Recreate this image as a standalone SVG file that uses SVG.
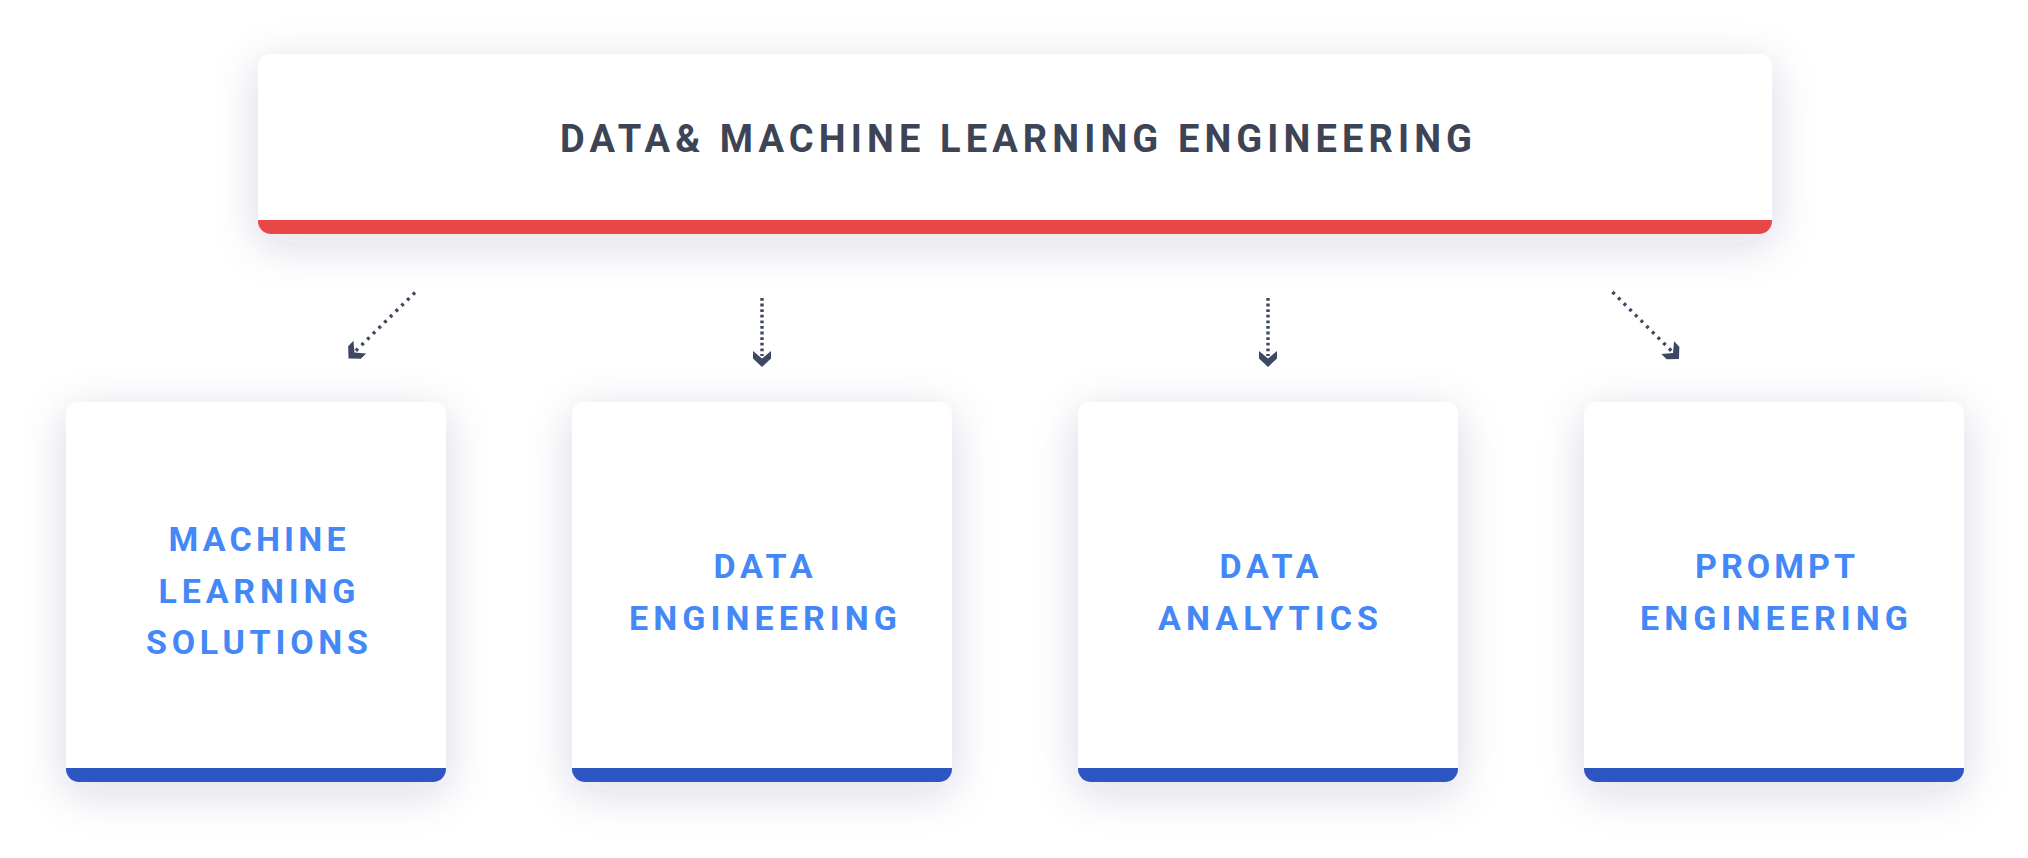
<svg xmlns="http://www.w3.org/2000/svg" width="2028" height="858" viewBox="0 0 2028 858">
  <defs>
    <filter id="shadow" x="-25%" y="-50%" width="150%" height="200%">
      <feDropShadow dx="0" dy="10" stdDeviation="22" flood-color="#2a3360" flood-opacity="0.16"/>
    </filter>
    <polygon id="chev" points="-9,-16 0,-8.5 9,-16 9,-8.5 0,0 -9,-8.5"/>
  </defs>
  <style>
    .card { fill: #ffffff; }
    .topbar { fill: #e84646; }
    .bar { fill: #2f57c3; }
    .title { font-family: Roboto, "Liberation Sans", sans-serif; font-weight: 700; font-size: 38px; fill: #3d4456; }
    .label { font-family: Roboto, "Liberation Sans", sans-serif; font-weight: 700; font-size: 34px; fill: #4487f6; text-anchor: middle; }
    .vline { stroke: #3d4862; stroke-width: 3.4; stroke-dasharray: 2.8 2.8; fill: none; }
    .dline { stroke: #3d4862; stroke-width: 3.4; stroke-dasharray: 3 5; fill: none; }
    .head { fill: #3d4862; }
  </style>
  <rect width="2028" height="858" fill="#ffffff"/>

  <g id="node-top">
    <g filter="url(#shadow)">
      <rect class="card" x="258" y="54" width="1514" height="180" rx="13"/>
      <path class="topbar" d="M258,220 H1772 V221 A13,13 0 0 1 1759,234 H271 A13,13 0 0 1 258,221 Z"/>
    </g>
    <text class="title" x="560" y="152" textLength="912" lengthAdjust="spacing">DATA&amp; MACHINE LEARNING ENGINEERING</text>
  </g>

  <g id="connectors">
    <line class="dline" x1="415" y1="292.5" x2="354" y2="352.5"/>
    <use href="#chev" class="head" transform="translate(348.5,358.5) rotate(45)"/>
    <line class="vline" x1="762" y1="298" x2="762" y2="356"/>
    <use href="#chev" class="head" transform="translate(762,367)"/>
    <line class="vline" x1="1268" y1="298" x2="1268" y2="356"/>
    <use href="#chev" class="head" transform="translate(1268,367)"/>
    <line class="dline" x1="1612.5" y1="292" x2="1673" y2="352.5"/>
    <use href="#chev" class="head" transform="translate(1679,359) rotate(-45)"/>
  </g>

  <g id="node-ml">
    <g filter="url(#shadow)">
      <rect class="card" x="66" y="402" width="380" height="380" rx="13"/>
      <path class="bar" d="M66,768 H446 V769 A13,13 0 0 1 433,782 H79 A13,13 0 0 1 66,769 Z"/>
    </g>
    <text class="label" x="257" y="551" textLength="177" lengthAdjust="spacing">MACHINE</text>
    <text class="label" x="257" y="602.5" textLength="197" lengthAdjust="spacing">LEARNING</text>
    <text class="label" x="257" y="654" textLength="222" lengthAdjust="spacing">SOLUTIONS</text>
  </g>

  <g id="node-de">
    <g filter="url(#shadow)">
      <rect class="card" x="572" y="402" width="380" height="380" rx="13"/>
      <path class="bar" d="M572,768 H952 V769 A13,13 0 0 1 939,782 H585 A13,13 0 0 1 572,769 Z"/>
    </g>
    <text class="label" x="763" y="577.5" textLength="99" lengthAdjust="spacing">DATA</text>
    <text class="label" x="763" y="629.5" textLength="268" lengthAdjust="spacing">ENGINEERING</text>
  </g>

  <g id="node-da">
    <g filter="url(#shadow)">
      <rect class="card" x="1078" y="402" width="380" height="380" rx="13"/>
      <path class="bar" d="M1078,768 H1458 V769 A13,13 0 0 1 1445,782 H1091 A13,13 0 0 1 1078,769 Z"/>
    </g>
    <text class="label" x="1269" y="577.5" textLength="99" lengthAdjust="spacing">DATA</text>
    <text class="label" x="1268" y="629.5" textLength="220" lengthAdjust="spacing">ANALYTICS</text>
  </g>

  <g id="node-pe">
    <g filter="url(#shadow)">
      <rect class="card" x="1584" y="402" width="380" height="380" rx="13"/>
      <path class="bar" d="M1584,768 H1964 V769 A13,13 0 0 1 1951,782 H1597 A13,13 0 0 1 1584,769 Z"/>
    </g>
    <text class="label" x="1775" y="577.5" textLength="160" lengthAdjust="spacing">PROMPT</text>
    <text class="label" x="1774" y="629.5" textLength="268" lengthAdjust="spacing">ENGINEERING</text>
  </g>
</svg>
